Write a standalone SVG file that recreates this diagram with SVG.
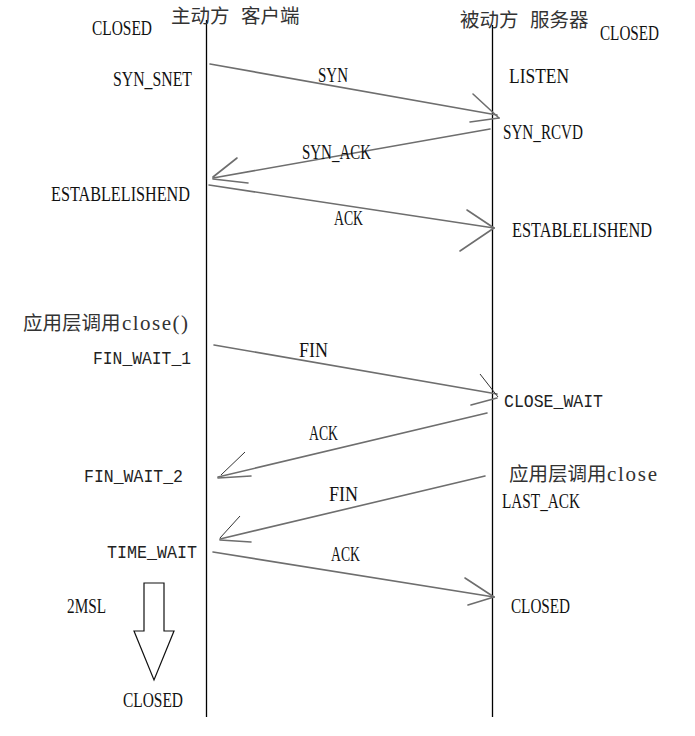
<svg xmlns="http://www.w3.org/2000/svg" width="695" height="736" viewBox="0 0 695 736">
<style>
.t{font-family:"Liberation Serif",serif;font-size:20px;fill:#111}
.m{font-family:"Liberation Mono",monospace;font-size:19px;fill:#222}
.c{font-family:"Noto Sans CJK SC",sans-serif;font-size:19.5px;fill:#333}
.cm{font-family:"Liberation Serif",serif;font-size:21px;fill:#333}
.life{stroke:#000;stroke-width:1.3;fill:none}
.msg{stroke:#6e6e6e;stroke-width:1.6;fill:none;stroke-linecap:round}
.thin{stroke:#333;stroke-width:1;fill:none}
</style>
<rect width="695" height="736" fill="#fff"/>
<g id="client">
<line class="life" x1="206.5" y1="20" x2="206.5" y2="717"/>
<text class="c" x="171" y="23">主动方</text>
<text class="c" x="241" y="23">客户端</text>
</g>
<g id="server">
<line class="life" x1="492.5" y1="25" x2="492.5" y2="717"/>
<text class="c" x="460" y="27">被动方</text>
<text class="c" x="530" y="27">服务器</text>
</g>
<g id="client-states">
<text class="t" x="92" y="35" textLength="60" lengthAdjust="spacingAndGlyphs">CLOSED</text>
<text class="t" x="113" y="86" textLength="79" lengthAdjust="spacingAndGlyphs">SYN_SNET</text>
<text class="t" x="51" y="201" textLength="139" lengthAdjust="spacingAndGlyphs">ESTABLELISHEND</text>
<text x="23" y="330"><tspan class="c">应用层调用</tspan><tspan class="cm" x="122" textLength="66" lengthAdjust="spacing">close()</tspan></text>
<text class="m" x="93" y="364" textLength="98" lengthAdjust="spacingAndGlyphs">FIN_WAIT_1</text>
<text class="m" x="84" y="482" textLength="99" lengthAdjust="spacingAndGlyphs">FIN_WAIT_2</text>
<text class="m" x="107" y="558" textLength="90" lengthAdjust="spacingAndGlyphs">TIME_WAIT</text>
<text class="t" x="67" y="613" textLength="39" lengthAdjust="spacingAndGlyphs">2MSL</text>
<text class="t" x="123" y="707" textLength="60" lengthAdjust="spacingAndGlyphs">CLOSED</text>
</g>
<g id="timewait-arrow">
<polygon points="144,583 164,583 164,631 174,631 154,680 134,631 144,631" fill="#fff" stroke="#111" stroke-width="1.2"/>
</g>
<g id="server-states">
<text class="t" x="600" y="40" textLength="59" lengthAdjust="spacingAndGlyphs">CLOSED</text>
<text class="t" x="509" y="83" textLength="60" lengthAdjust="spacingAndGlyphs">LISTEN</text>
<text class="t" x="503" y="139" textLength="80" lengthAdjust="spacingAndGlyphs">SYN_RCVD</text>
<text class="t" x="512" y="237" textLength="140" lengthAdjust="spacingAndGlyphs">ESTABLELISHEND</text>
<text class="m" x="504" y="407" textLength="99" lengthAdjust="spacingAndGlyphs">CLOSE_WAIT</text>
<text x="509" y="481"><tspan class="c">应用层调用</tspan><tspan class="cm" x="607" textLength="50" lengthAdjust="spacing">close</tspan></text>
<text class="t" x="502" y="508" textLength="78" lengthAdjust="spacingAndGlyphs">LAST_ACK</text>
<text class="t" x="511" y="613" textLength="59" lengthAdjust="spacingAndGlyphs">CLOSED</text>
</g>
<g id="connectors">
<line class="msg" x1="210" y1="64" x2="497" y2="115"/>
<line class="msg" x1="473" y1="94" x2="499" y2="118"/>
<line class="msg" x1="470" y1="122" x2="499" y2="118"/>
<text class="t" x="318" y="82" textLength="30" lengthAdjust="spacingAndGlyphs">SYN</text>

<line class="msg" x1="490" y1="129" x2="213" y2="178"/>
<line class="msg" x1="237" y1="158" x2="213" y2="177"/>
<line class="msg" x1="213" y1="179" x2="248" y2="183"/>
<text class="t" x="302" y="159" textLength="69" lengthAdjust="spacingAndGlyphs">SYN_ACK</text>

<line class="msg" x1="209" y1="185" x2="494" y2="228"/>
<line class="msg" x1="467" y1="210" x2="494" y2="228"/>
<line class="msg" x1="460" y1="251" x2="494" y2="228"/>
<text class="t" x="334" y="225" textLength="29" lengthAdjust="spacingAndGlyphs">ACK</text>

<line class="msg" x1="214" y1="345" x2="497" y2="394"/>
<line class="thin" x1="480" y1="374" x2="498" y2="397"/>
<line class="msg" x1="471" y1="405" x2="497" y2="398"/>
<text class="t" x="299" y="357" textLength="29" lengthAdjust="spacingAndGlyphs">FIN</text>

<line class="msg" x1="487" y1="413" x2="218" y2="477"/>
<line class="thin" x1="245" y1="452" x2="221" y2="475"/>
<line class="msg" x1="218" y1="478" x2="251" y2="476"/>
<text class="t" x="309" y="440" textLength="29" lengthAdjust="spacingAndGlyphs">ACK</text>

<line class="msg" x1="485" y1="476" x2="220" y2="539"/>
<line class="thin" x1="240" y1="516" x2="220" y2="538"/>
<line class="msg" x1="220" y1="540" x2="251" y2="542"/>
<text class="t" x="329" y="501" textLength="29" lengthAdjust="spacingAndGlyphs">FIN</text>

<line class="msg" x1="213" y1="552" x2="494" y2="597"/>
<line class="msg" x1="465" y1="578" x2="494" y2="597"/>
<line class="msg" x1="468" y1="605" x2="494" y2="597"/>
<text class="t" x="331" y="561" textLength="29" lengthAdjust="spacingAndGlyphs">ACK</text>
</g>
</svg>
